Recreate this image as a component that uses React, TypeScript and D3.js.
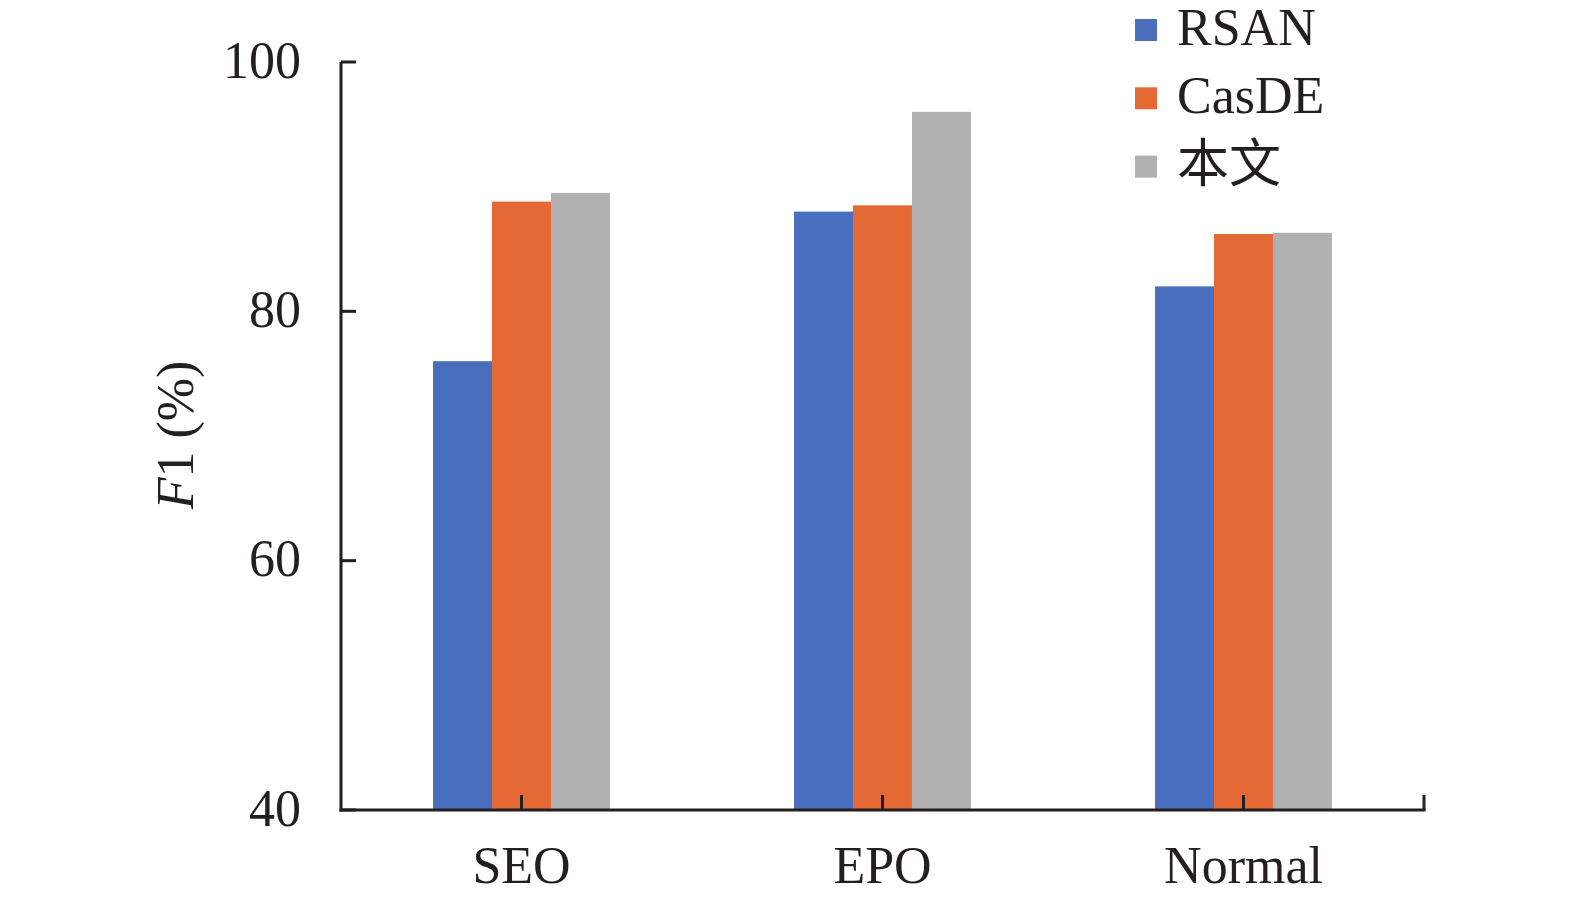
import React, { useEffect } from 'react';
import * as d3 from 'd3';

const categories = ['SEO', 'EPO', 'Normal'];
const seriesNames = ['RSAN', 'CasDE', '本文'];
const rsan = [76.0, 88.0, 82.0];
const casde = [88.8, 88.5, 86.2];
const ours = [89.5, 96.0, 86.3];
const yTicks = [40, 60, 80, 100];
const colors = ['#4A6EBE', '#E46935', '#B0B0B0'];

const W = 1575;
const H = 902;
const font = '"Liberation Serif", "Times New Roman", "Noto Sans CJK SC", serif';
const ink = '#231F20';

export default function App() {
  useEffect(() => {
    document.body.style.margin = '0';
  }, []);

  const values = [rsan, casde, ours];

  // axes frame
  const left = 341;
  const right = 1424;
  const top = 62;
  const bottom = 810;

  const y = d3.scaleLinear().domain([40, 100]).range([bottom, top]);
  const x0 = d3.scaleBand<string>().domain(categories).range([left, right]).padding(0);
  const groupW = x0.bandwidth() * 0.49;
  const x1 = d3
    .scaleBand<string>()
    .domain(seriesNames)
    .range([(x0.bandwidth() - groupW) / 2, (x0.bandwidth() + groupW) / 2]);

  const tickLen = 15;

  return (
    <svg width={W} height={H} style={{ display: 'block', background: '#fff' }} fontFamily={font}>
      {/* bars */}
      {categories.map((c, i) => (
        <g key={c} transform={`translate(${x0(c)},0)`}>
          {seriesNames.map((s, j) => (
            <rect
              key={s}
              x={x1(s)}
              y={y(values[j][i])}
              width={x1.bandwidth()}
              height={y(40) - y(values[j][i])}
              fill={colors[j]}
            />
          ))}
        </g>
      ))}

      {/* y axis */}
      <line x1={left} x2={left} y1={top} y2={bottom + 1.5} stroke={ink} strokeWidth={3} />
      {yTicks.map((t) => (
        <g key={t}>
          <line x1={left} x2={left + tickLen} y1={y(t)} y2={y(t)} stroke={ink} strokeWidth={3} />
          <text x={301} y={y(t)} dy="0.3em" textAnchor="end" fontSize={52} fill={ink}>
            {t}
          </text>
        </g>
      ))}

      {/* x axis */}
      <line x1={left - 1.5} x2={right + 1.5} y1={bottom} y2={bottom} stroke={ink} strokeWidth={3} />
      {categories.map((c) => {
        const cx = (x0(c) as number) + x0.bandwidth() / 2;
        return (
          <g key={c}>
            <line x1={cx} x2={cx} y1={bottom} y2={bottom - tickLen} stroke={ink} strokeWidth={3} />
            <text x={cx} y={883} textAnchor="middle" fontSize={52} fill={ink}>
              {c}
            </text>
          </g>
        );
      })}
      <line x1={right} x2={right} y1={bottom} y2={bottom - tickLen} stroke={ink} strokeWidth={3} />

      {/* y label */}
      <text transform="translate(193,435) rotate(-90)" textAnchor="middle" fontSize={52} fill={ink}>
        <tspan fontStyle="italic">F</tspan>1 (%)
      </text>

      {/* legend */}
      {seriesNames.map((s, j) => {
        const cy = 30 + j * 68.3;
        return (
          <g key={s}>
            <rect x={1135} y={cy - 11} width={22} height={22} fill={colors[j]} />
            <text x={1177} y={cy + 15} fontSize={52} fill={ink}>
              {s}
            </text>
          </g>
        );
      })}
    </svg>
  );
}
